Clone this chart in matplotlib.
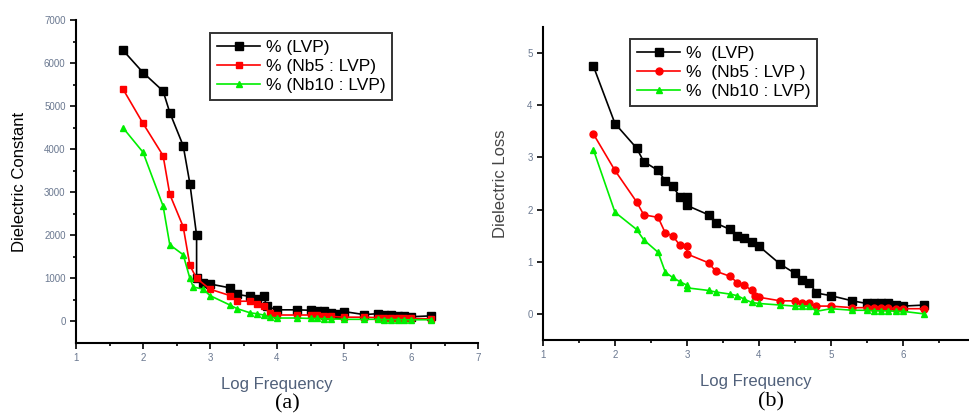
import numpy as np
import matplotlib.pyplot as plt

plt.rcParams['font.family'] = ['Liberation Sans', 'DejaVu Sans']

# (a) Dielectric constant vs log frequency
xa_lvp = [1.7, 2.0, 2.3, 2.4, 2.6, 2.7, 2.8, 2.8, 2.9, 3.0, 3.3, 3.4, 3.6, 3.7, 3.8,
          3.85, 4.0, 4.3, 4.5, 4.6, 4.7, 4.8, 4.9, 5.0, 5.3, 5.5, 5.6, 5.7, 5.8, 5.9, 6.0, 6.3]
ya_lvp = [6300, 5780, 5350, 4850, 4080, 3200, 2000, 1000, 900, 870, 780, 630, 580, 520, 580,
          350, 270, 270, 260, 250, 250, 200, 170, 230, 160, 180, 150, 140, 130, 130, 110, 130]
xa_nb5 = [1.7, 2.0, 2.3, 2.4, 2.6, 2.7, 2.8, 3.0, 3.3, 3.4, 3.6, 3.7, 3.8, 3.9, 4.0,
          4.3, 4.5, 4.6, 4.7, 4.8, 5.0, 5.3, 5.5, 5.6, 5.7, 5.8, 5.9, 6.0, 6.3]
ya_nb5 = [5400, 4600, 3850, 2950, 2200, 1300, 1000, 750, 600, 470, 470, 400, 350, 200, 150,
          150, 150, 140, 130, 120, 100, 100, 90, 90, 80, 80, 80, 70, 60]
xa_nb10 = [1.7, 2.0, 2.3, 2.4, 2.6, 2.7, 2.75, 2.9, 3.0, 3.3, 3.4, 3.6, 3.7, 3.8, 3.9, 4.0,
           4.3, 4.5, 4.6, 4.7, 4.8, 5.0, 5.3, 5.5, 5.6, 5.7, 5.8, 5.9, 6.0, 6.3]
ya_nb10 = [4500, 3930, 2680, 1780, 1550, 1000, 800, 750, 600, 380, 300, 200, 180, 150, 100, 80,
           80, 70, 70, 60, 60, 50, 50, 50, 45, 45, 45, 40, 40, 40]

# (b) Dielectric loss vs log frequency
xb_lvp = [1.7, 2.0, 2.3, 2.4, 2.6, 2.7, 2.8, 2.9, 3.0, 3.0, 3.3, 3.4, 3.6, 3.7, 3.8, 3.9, 4.0,
          4.3, 4.5, 4.6, 4.7, 4.8, 5.0, 5.3, 5.5, 5.6, 5.7, 5.8, 5.9, 6.0, 6.3]
yb_lvp = [4.75, 3.65, 3.18, 2.92, 2.75, 2.55, 2.45, 2.25, 2.25, 2.08, 1.9, 1.74, 1.62, 1.5, 1.45,
          1.38, 1.3, 0.95, 0.78, 0.65, 0.6, 0.4, 0.35, 0.25, 0.2, 0.2, 0.2, 0.2, 0.18, 0.15, 0.17]
xb_nb5 = [1.7, 2.0, 2.3, 2.4, 2.6, 2.7, 2.8, 2.9, 3.0, 3.0, 3.3, 3.4, 3.6, 3.7, 3.8, 3.9, 3.95,
          4.0, 4.3, 4.5, 4.6, 4.7, 4.8, 5.0, 5.3, 5.5, 5.6, 5.7, 5.8, 5.9, 6.0, 6.3]
yb_nb5 = [3.45, 2.75, 2.15, 1.9, 1.85, 1.55, 1.5, 1.32, 1.3, 1.15, 0.98, 0.82, 0.72, 0.6, 0.55,
          0.45, 0.35, 0.32, 0.25, 0.25, 0.2, 0.2, 0.15, 0.15, 0.12, 0.12, 0.12, 0.11, 0.11, 0.1, 0.1, 0.1]
xb_nb10 = [1.7, 2.0, 2.3, 2.4, 2.6, 2.7, 2.8, 2.9, 3.0, 3.0, 3.3, 3.4, 3.6, 3.7, 3.8, 3.9, 4.0,
           4.3, 4.5, 4.6, 4.7, 4.8, 5.0, 5.3, 5.5, 5.6, 5.7, 5.8, 5.9, 6.0, 6.3]
yb_nb10 = [3.15, 1.95, 1.62, 1.42, 1.18, 0.8, 0.7, 0.62, 0.55, 0.5, 0.45, 0.42, 0.38, 0.35, 0.28,
           0.22, 0.2, 0.17, 0.15, 0.15, 0.15, 0.05, 0.1, 0.07, 0.07, 0.06, 0.06, 0.06, 0.05, 0.05, 0.0]

labels_a = ['% (LVP)', '% (Nb5 : LVP)', '% (Nb10 : LVP)']
labels_b = ['%  (LVP)', '%  (Nb5 : LVP )', '%  (Nb10 : LVP)']
tick_color = '#6a7890'
label_color = '#50607a'

fig = plt.figure(figsize=(9.69, 4.16), dpi=100)
ax1 = fig.add_axes([76/969, 1 - 343/416, 402/969, 323/416])
ax2 = fig.add_axes([543/969, 1 - 340/416, 426/969, 313/416])


def style(ax):
    for s in ['top', 'right']:
        ax.spines[s].set_visible(False)
    for s in ['left', 'bottom']:
        ax.spines[s].set_linewidth(1.5)
    ax.tick_params(direction='out', length=4, width=1.2, labelsize=7, labelcolor=tick_color)
    ax.tick_params(which='minor', direction='out', length=2.5, width=1.2)
    ax.set_xlabel('Log Frequency', fontsize=12, color=label_color, labelpad=10)


def legend(ax, anchor):
    leg = ax.legend(loc='upper left', bbox_to_anchor=anchor, fontsize=12.5,
                    frameon=True, fancybox=False, edgecolor='black', handlelength=2.5,
                    handletextpad=0.3, borderpad=0.4, labelspacing=0.22, borderaxespad=0)
    leg.get_frame().set_linewidth(1.4)


ax1.plot(xa_lvp, ya_lvp, 'k-s', lw=1.2, ms=6, label=labels_a[0])
ax1.plot(xa_nb5, ya_nb5, '-s', color='#ff0000', lw=1.2, ms=5, label=labels_a[1])
ax1.plot(xa_nb10, ya_nb10, '-^', color='#00ee00', lw=1.2, ms=5, label=labels_a[2])
ax1.set_xlim(1, 7)
ax1.set_ylim(-500, 7000)
ax1.set_xticks(range(1, 8))
ax1.set_xticks(np.arange(1.5, 7, 1), minor=True)
ax1.set_yticks(range(0, 7001, 1000))
ax1.set_yticks(range(500, 7000, 1000), minor=True)
style(ax1)
ax1.set_ylabel('Dielectric Constant', fontsize=12, labelpad=12)
legend(ax1, ((210 - 76)/402, (343 - 33)/323))

ax2.plot(xb_lvp, yb_lvp, 'k-s', lw=1.2, ms=6, label=labels_b[0])
ax2.plot(xb_nb5, yb_nb5, '-o', color='#ff0000', lw=1.2, ms=5, label=labels_b[1])
ax2.plot(xb_nb10, yb_nb10, '-^', color='#00ee00', lw=1.2, ms=5, label=labels_b[2])
ax2.set_xlim(1, 6.92)
ax2.set_ylim(-0.5, 5.5)
ax2.set_xticks(range(1, 7))
ax2.set_xticks(np.arange(1.5, 7, 1), minor=True)
ax2.set_yticks(range(0, 6))
style(ax2)
ax2.set_ylabel('Dielectric Loss', fontsize=12, color='#444444', labelpad=14)
legend(ax2, ((630 - 543)/426, (340 - 39)/313))

fig.text(287/969, 1 - 404/416, '(a)', ha='center', va='center', fontsize=16, family='Liberation Serif')
fig.text(771/969, 1 - 402/416, '(b)', ha='center', va='center', fontsize=16, family='Liberation Serif')

fig.savefig('out.png', dpi=100)
